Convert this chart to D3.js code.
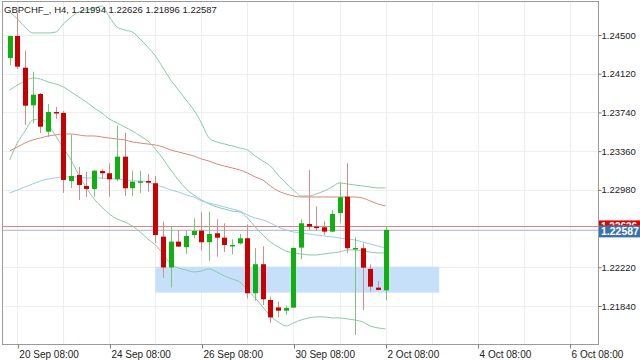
<!DOCTYPE html>
<html><head><meta charset="utf-8">
<script src="https://cdn.jsdelivr.net/npm/d3@7"></script>
<style>html,body{margin:0;padding:0;background:#fff;} svg{display:block;}</style>
</head><body><svg id="c" width="640" height="360"></svg>
<script>
const title = "GBPCHF_, H4, 1.21994 1.22626 1.21896 1.22587";
const open  = [1.24274,1.24490,1.24179,1.23810,1.23921,1.23551,1.23744,1.23735,1.23067,1.23126,1.23018,1.22989,1.23165,1.23143,1.23084,1.23306,1.22996,1.23060,1.23067,1.23045,1.22521,1.22218,1.22472,1.22417,1.22537,1.22580,1.22466,1.22554,1.22511,1.22434,1.22454,1.22505,1.21965,1.22250,1.21899,1.21826,1.21794,1.21824,1.22413,1.22645,1.22619,1.22613,1.22570,1.22753,1.22913,1.22405,1.22407,1.22204,1.22020,1.21994];
const high  = [1.24495,1.24716,1.24346,1.24140,1.23931,1.23823,1.23793,1.23754,1.23519,1.23205,1.23158,1.23175,1.23182,1.23241,1.23612,1.23541,1.23168,1.23165,1.23136,1.23116,1.22668,1.22619,1.22586,1.22581,1.22701,1.22758,1.22766,1.22691,1.22652,1.22495,1.22547,1.22640,1.22410,1.22426,1.21932,1.21883,1.21843,1.22415,1.22691,1.23175,1.22817,1.22672,1.22783,1.23051,1.23241,1.22515,1.22456,1.22248,1.22086,1.22626];
const low   = [1.24201,1.24166,1.23617,1.23636,1.23538,1.23499,1.23676,1.22950,1.22999,1.22881,1.22910,1.22913,1.23087,1.22913,1.23067,1.22920,1.22920,1.22950,1.22962,1.22459,1.22118,1.22022,1.22420,1.22351,1.22505,1.22383,1.22282,1.22324,1.22370,1.22346,1.22444,1.21914,1.21890,1.21850,1.21674,1.21730,1.21752,1.21821,1.22299,1.22580,1.22577,1.22537,1.22567,1.22652,1.22358,1.21556,1.21801,1.21981,1.21991,1.21896];
const close = [1.24490,1.24189,1.23806,1.23914,1.23600,1.23744,1.23735,1.23077,1.23116,1.23028,1.22989,1.23168,1.23143,1.23084,1.23306,1.22996,1.23060,1.23064,1.23051,1.22537,1.22218,1.22472,1.22423,1.22527,1.22577,1.22466,1.22547,1.22511,1.22439,1.22439,1.22505,1.21965,1.22250,1.21906,1.21728,1.21794,1.21821,1.22410,1.22652,1.22619,1.22609,1.22570,1.22743,1.22907,1.22407,1.22410,1.22216,1.22030,1.21998,1.22587];
const bbUpper = [1.24726,1.24657,1.24579,1.24520,1.24520,1.24520,1.24529,1.24608,1.24677,1.24726,1.24745,1.24765,1.24785,1.24677,1.24579,1.24549,1.24529,1.24461,1.24382,1.24294,1.24176,1.24058,1.23960,1.23862,1.23764,1.23636,1.23489,1.23450,1.23430,1.23411,1.23391,1.23371,1.23313,1.23263,1.23214,1.23126,1.23048,1.22979,1.22920,1.22920,1.22940,1.22969,1.23008,1.23048,1.23038,1.23028,1.23018,1.23008,1.22999,1.22999];
const bbMiddle = [1.23960,1.24009,1.24049,1.24078,1.24068,1.24039,1.24019,1.23990,1.23941,1.23892,1.23842,1.23784,1.23735,1.23676,1.23636,1.23597,1.23558,1.23509,1.23460,1.23381,1.23283,1.23175,1.23077,1.22989,1.22930,1.22881,1.22842,1.22812,1.22792,1.22772,1.22763,1.22704,1.22616,1.22537,1.22469,1.22420,1.22380,1.22361,1.22351,1.22341,1.22341,1.22351,1.22361,1.22370,1.22390,1.22390,1.22380,1.22370,1.22361,1.22361];
const bbLower = [1.23273,1.23440,1.23558,1.23666,1.23676,1.23617,1.23509,1.23391,1.23273,1.23126,1.22999,1.22891,1.22812,1.22743,1.22694,1.22665,1.22626,1.22567,1.22498,1.22439,1.22351,1.22253,1.22213,1.22194,1.22174,1.22184,1.22204,1.22174,1.22135,1.22105,1.22076,1.21998,1.21919,1.21831,1.21742,1.21684,1.21644,1.21674,1.21703,1.21723,1.21733,1.21733,1.21723,1.21723,1.21713,1.21703,1.21684,1.21644,1.21625,1.21615];
const maRed = [1.23362,1.23401,1.23440,1.23470,1.23489,1.23509,1.23519,1.23528,1.23528,1.23519,1.23509,1.23509,1.23499,1.23489,1.23479,1.23470,1.23450,1.23440,1.23430,1.23420,1.23401,1.23371,1.23352,1.23332,1.23313,1.23283,1.23263,1.23234,1.23214,1.23195,1.23175,1.23146,1.23107,1.23077,1.23018,1.22969,1.22940,1.22920,1.22910,1.22910,1.22910,1.22910,1.22910,1.22910,1.22910,1.22910,1.22900,1.22871,1.22842,1.22822];
const maBlue = [1.22949,1.22979,1.23008,1.23038,1.23067,1.23087,1.23097,1.23107,1.23107,1.23107,1.23097,1.23097,1.23097,1.23087,1.23087,1.23077,1.23067,1.23067,1.23057,1.23028,1.23008,1.22979,1.22959,1.22930,1.22910,1.22871,1.22851,1.22832,1.22812,1.22792,1.22772,1.22734,1.22704,1.22685,1.22655,1.22616,1.22586,1.22567,1.22557,1.22547,1.22537,1.22527,1.22518,1.22508,1.22498,1.22488,1.22469,1.22449,1.22429,1.22410];
const xTickIdx = [1,13,25,37,49,61,73];
const xTickLabels = ["20 Sep 08:00","24 Sep 08:00","26 Sep 08:00","30 Sep 08:00","2 Oct 08:00","4 Oct 08:00","6 Oct 08:00"];
const yTicks = [1.2184,1.2222,1.2260,1.2298,1.2336,1.2374,1.2412,1.2450];
const zone = [1.22226, 1.21971];
const zoneBars = [19, 56];
const askPrice = 1.22626;
const bidPrice = 1.22587;

const svg = d3.select("#c");
const P = {left:2.5, right:598.5, top:1.5, bottom:344.5};
const x = d3.scaleLinear().domain([0,73]).range([9.7,569.6]);
const y = d3.scaleLinear().domain([1.2184,1.2450]).range([306,35]);
const FONT = "'Liberation Sans', Arial, sans-serif";
const ay = y(askPrice), by = y(bidPrice);

const defs = svg.append("defs");
defs.append("clipPath").attr("id","clip")
  .append("rect").attr("x",P.left).attr("y",P.top).attr("width",P.right-P.left).attr("height",P.bottom-P.top);
defs.append("clipPath").attr("id","askclip")
  .append("rect").attr("x",599).attr("y",ay-5.5).attr("width",41).attr("height",by-4.5-(ay-5.5));

// grid
const grid = svg.append("g").attr("clip-path","url(#clip)");
grid.selectAll("line.v").data(d3.range(1,74,6)).join("line")
  .attr("x1",d=>Math.round(x(d))+0.5).attr("x2",d=>Math.round(x(d))+0.5)
  .attr("y1",P.top).attr("y2",P.bottom).attr("stroke","#eeeeee");
grid.selectAll("line.h").data(yTicks).join("line")
  .attr("y1",d=>Math.round(y(d))+0.5).attr("y2",d=>Math.round(y(d))+0.5)
  .attr("x1",P.left).attr("x2",P.right).attr("stroke","#eeeeee");

const g = svg.append("g").attr("clip-path","url(#clip)");
// zone rectangle
g.append("rect")
  .attr("x",x(zoneBars[0])).attr("width",x(zoneBars[1])-x(zoneBars[0]))
  .attr("y",y(zone[0])).attr("height",y(zone[1])-y(zone[0]))
  .attr("fill","#c6e0fa");

// price lines
g.append("line").attr("x1",P.left).attr("x2",P.right)
  .attr("y1",Math.round(ay)+0.5).attr("y2",Math.round(ay)+0.5)
  .attr("stroke","#e48080");
g.append("line").attr("x1",P.left).attr("x2",P.right)
  .attr("y1",Math.round(by)+0.5).attr("y2",Math.round(by)+0.5)
  .attr("stroke","#b0c6dc");

// indicator lines
const line = d3.line().x((d,i)=>x(i)).y(d=>y(d)).curve(d3.curveMonotoneX);
[[bbUpper,"#86cba8"],[bbMiddle,"#86cba8"],[bbLower,"#86cba8"],[maRed,"#d9877a"],[maBlue,"#9ccbe8"]].forEach(([arr,col])=>{
  g.append("path").datum(arr).attr("d",line).attr("fill","none").attr("stroke",col).attr("stroke-width",1);
});

// candles
const idx = d3.range(open.length);
const cg = g.append("g");
cg.selectAll("line.wick").data(idx).join("line")
  .attr("x1",i=>Math.round(x(i))+0.5).attr("x2",i=>Math.round(x(i))+0.5)
  .attr("y1",i=>y(high[i])).attr("y2",i=>y(low[i]))
  .attr("stroke",i=>close[i]>=open[i]?"#7cc47c":"#d68a8a").attr("stroke-width",1);
cg.selectAll("rect.body").data(idx).join("rect")
  .attr("x",i=>Math.round(x(i))-2).attr("width",5)
  .attr("y",i=>Math.min(y(open[i]),y(close[i])))
  .attr("height",i=>Math.max(1.5,Math.abs(y(open[i])-y(close[i]))))
  .attr("fill",i=>close[i]>=open[i]?"#10b010":"#c80000");

// frame
svg.append("rect").attr("x",P.left).attr("y",P.top).attr("width",P.right-P.left).attr("height",P.bottom-P.top)
  .attr("fill","none").attr("stroke","#9a9a9a");

// x axis
const xa = svg.append("g").attr("transform",`translate(0,${P.bottom})`)
  .call(d3.axisBottom(x).tickValues(xTickIdx).tickFormat((d,i)=>xTickLabels[i]).tickSize(4).tickSizeOuter(0));
xa.select(".domain").remove();
xa.selectAll(".tick line").attr("stroke","#777").attr("transform","translate(0.5,0)");
xa.selectAll(".tick text").attr("text-anchor","start").attr("x",1.5).attr("y",6)
  .attr("fill","#222").style("font-family",FONT).style("font-size","10px");

// y axis (the tick hidden under the price labels carries no label, as in the reference)
const ya = svg.append("g").attr("transform",`translate(${P.right},0)`)
  .call(d3.axisRight(y).tickValues(yTicks)
    .tickFormat(d => Math.abs(y(d)-by) < 8 ? "" : d3.format(".5f")(d))
    .tickSize(3).tickSizeOuter(0));
ya.select(".domain").remove();
ya.selectAll(".tick line").attr("stroke","#777");
ya.selectAll(".tick text").attr("x",3).attr("fill","#222")
  .style("font-family",FONT).style("font-size","9.5px");

// price labels
svg.append("rect").attr("x",599).attr("y",ay-5.5).attr("width",41).attr("height",12).attr("fill","#e00000");
svg.append("text").attr("x",601).attr("y",ay+4).attr("clip-path","url(#askclip)").text(askPrice.toFixed(5))
  .attr("fill","#fff").style("font-family",FONT).style("font-size","10px").style("font-weight","bold");
svg.append("rect").attr("x",599).attr("y",by-4.5).attr("width",41).attr("height",12).attr("fill","#3d72a8");
svg.append("text").attr("x",601).attr("y",by+5.5).text(bidPrice.toFixed(5))
  .attr("fill","#fff").style("font-family",FONT).style("font-size","10.5px").style("font-weight","bold");

// title
svg.append("text").attr("x",4).attr("y",13).text(title)
  .attr("fill","#222").style("font-family",FONT).style("font-size","9.5px");
</script></body></html>
